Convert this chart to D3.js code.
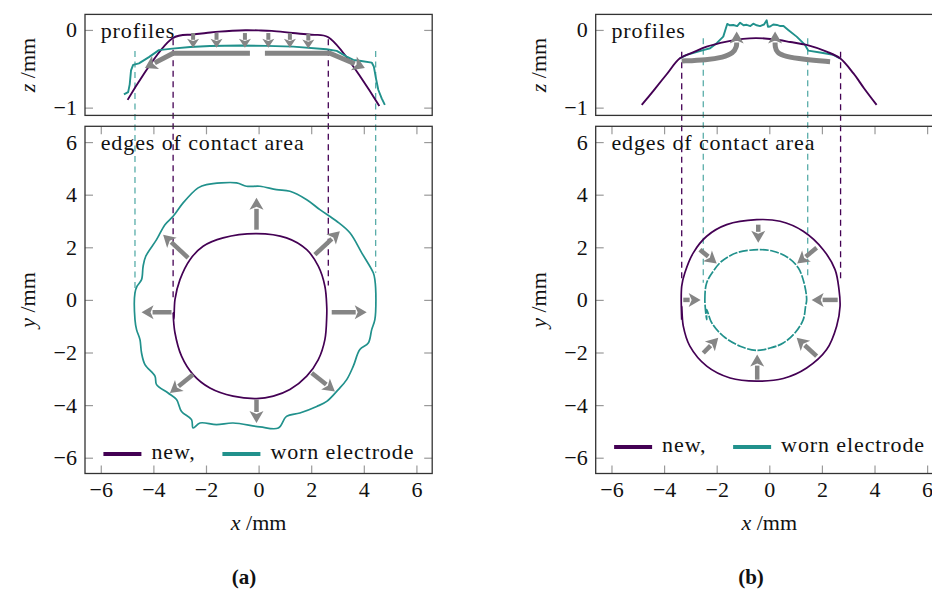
<!DOCTYPE html>
<html>
<head>
<meta charset="utf-8">
<script src="https://cdn.jsdelivr.net/npm/d3@7"></script>
<style>
  body { margin: 0; background: #fff; }
  text { font-family: "Liberation Serif", "Times New Roman", serif; fill: #111; }
</style>
</head>
<body>
<svg id="fig" width="932" height="590"></svg>
<script>
// ---- data (mm) ----
const xTicks = [-6, -4, -2, 0, 2, 4, 6];
const yTicks = [-6, -4, -2, 0, 2, 4, 6];
const zTicks = [0, -1];
const seriesNames = ["new,", "worn electrode"];
const panelLabels = ["(a)", "(b)"];

// profiles [x, z]
const newProfileA = [[-4.98, -0.9], [-3.27, -0.107], [-2.5, -0.058], [-2.0, -0.04], [-1.5, -0.022],
  [-1.0, -0.01], [-0.5, -0.004], [0, -0.006], [0.5, -0.012], [1.3, -0.04], [2.0, -0.062],
  [2.65, -0.094], [4.59, -0.98]];
const wornProfileA = [[-5.12, -0.83], [-4.96, -0.8], [-4.9, -0.7], [-4.85, -0.52], [-4.77, -0.45],
  [-4.55, -0.43], [-4.17, -0.35], [-3.79, -0.26], [-3.28, -0.24], [-2.6, -0.22], [-1.85, -0.206],
  [-0.71, -0.2], [0.3, -0.205], [1.32, -0.215], [2.58, -0.249], [2.97, -0.27], [3.35, -0.343],
  [3.6, -0.386], [3.9, -0.4], [4.3, -0.42], [4.38, -0.47], [4.46, -0.62], [4.55, -0.77],
  [4.68, -0.88], [4.8, -0.965]];
const newProfileB = [[-4.85, -0.965], [-4.4, -0.78], [-3.9, -0.57], [-3.4, -0.365], [-2.9, -0.29],
  [-2.38, -0.215], [-1.62, -0.15], [-1.0, -0.115], [-0.5, -0.105], [0.15, -0.12], [0.8, -0.155],
  [1.42, -0.193], [2.18, -0.28], [2.69, -0.365], [3.2, -0.56], [3.6, -0.75], [4.08, -0.965]];
const wornProfileB = [[-3.4, -0.365], [-3.14, -0.32], [-2.51, -0.26], [-2.25, -0.236], [-2.0, -0.17],
  [-1.75, -0.086], [-1.6, 0.077], [-1.5, 0.06], [-1.37, 0.064], [-1.22, 0.05], [-1.11, 0.094],
  [-0.98, 0.06], [-0.86, 0.066], [-0.72, 0.05], [-0.61, 0.08], [-0.48, 0.06], [-0.35, 0.05],
  [-0.2, 0.07], [-0.1, 0.125], [-0.05, 0.04], [0.03, 0.045], [0.15, 0.07], [0.29, 0.064],
  [0.42, 0.05], [0.54, 0.05], [0.72, 0.0], [1.04, -0.086], [1.36, -0.193], [1.48, -0.266],
  [1.93, -0.29], [2.43, -0.32], [2.69, -0.365]];

// contact area edges [x, y]
const newEdgeA = [[-3.22, -0.75], [-3.18, 0.01], [-2.99, 0.77], [-2.61, 1.53], [-2.11, 2.04],
  [-1.35, 2.36], [-0.08, 2.52], [1.06, 2.36], [1.83, 1.91], [2.27, 1.28], [2.52, 0.52],
  [2.59, -0.24], [2.59, -0.62], [2.52, -1.51], [2.27, -2.27], [1.83, -2.9], [1.19, -3.41],
  [0.56, -3.66], [-0.08, -3.75], [-0.97, -3.66], [-1.85, -3.35], [-2.49, -2.84], [-2.93, -2.14],
  [-3.18, -1.25], [-3.25, -0.49]];
const wornEdgeA = [[-4.7, -0.75], [-4.7, 0.27], [-4.62, 0.52], [-4.45, 0.77], [-4.39, 1.28],
  [-4.29, 1.66], [-3.88, 2.29], [-3.56, 2.86], [-3.25, 3.18], [-2.87, 3.69], [-2.3, 4.26],
  [-1.98, 4.38], [-0.84, 4.45], [-0.46, 4.32], [0.05, 4.32], [0.68, 4.19], [1.19, 4.13],
  [1.83, 3.81], [2.33, 3.43], [2.97, 2.99], [3.47, 2.55], [3.92, 1.79], [4.36, 1.03],
  [4.42, 0.77], [4.46, 0.01], [4.42, -0.75], [4.3, -1.13], [4.17, -1.64], [3.85, -1.89],
  [3.6, -2.52], [3.35, -3.03], [3.03, -3.41], [2.59, -3.86], [2.21, -4.05], [1.57, -4.3],
  [1.06, -4.43], [0.75, -4.87], [0.05, -4.83], [-0.97, -4.68], [-1.6, -4.74], [-2.23, -4.68],
  [-2.49, -4.87], [-2.55, -4.55], [-2.93, -4.24], [-3.12, -3.79], [-3.44, -3.54], [-3.88, -3.22],
  [-3.94, -2.9], [-4.32, -2.46], [-4.45, -2.02], [-4.51, -1.51], [-4.64, -1.13]];
const newEdgeB = [[-3.33, -0.75], [-3.33, 0.52], [-3.21, 1.03], [-2.89, 1.79], [-2.38, 2.42],
  [-1.62, 2.86], [-0.48, 3.05], [0.41, 2.99], [1.29, 2.61], [2.05, 1.91], [2.5, 1.15],
  [2.65, 0.39], [2.69, -0.24], [2.56, -1.0], [2.18, -1.89], [1.42, -2.59], [0.53, -2.99],
  [-0.48, -3.09], [-1.49, -2.97], [-2.38, -2.52], [-3.02, -1.76], [-3.27, -1.0], [-3.33, -0.24]];
const wornEdgeB = [[-2.38, -0.75], [-2.45, 0.01], [-2.38, 0.65], [-2.13, 1.09], [-1.81, 1.47],
  [-1.24, 1.79], [-0.42, 1.91], [0.15, 1.85], [0.72, 1.6], [1.1, 1.22], [1.32, 0.65],
  [1.42, 0.01], [1.38, -0.24], [1.29, -0.75], [0.98, -1.25], [0.53, -1.64], [0.03, -1.83],
  [-0.48, -1.92], [-1.11, -1.76], [-1.75, -1.38], [-2.19, -0.87], [-2.38, -0.37]];

// projection lines: [x, z at top, y at bottom]
const newGuidesA = [[-3.25, -0.12, 0.0], [2.65, -0.12, 0.55]];
const wornGuidesA = [[-4.7, -0.27, 0.27], [4.45, -0.27, 1.03]];
const newGuidesB = [[-3.33, -0.28, 0.65], [2.71, -0.28, 0.77]];
const wornGuidesB = [[-2.51, -0.107, 0.65], [1.46, -0.107, 0.77]];

// arrows: profile arrows in [x, z], edge arrows in [x, y]; last point is the tip
const profileArrowsA = [
  [[-2.49, -0.04], [-2.49, -0.23]], [[-1.6, -0.04], [-1.6, -0.23]], [[-0.52, -0.04], [-0.52, -0.23]],
  [[0.37, -0.04], [0.37, -0.23]], [[1.19, -0.04], [1.19, -0.23]], [[1.89, -0.05], [1.89, -0.24]],
  [[-0.33, -0.3], [-3.25, -0.3], [-4.32, -0.49]], [[0.24, -0.3], [2.71, -0.3], [4.04, -0.49]]];
const edgeArrowsA = [
  [[-0.08, 2.67], [-0.08, 3.88]], [[-2.68, 1.6], [-3.63, 2.48]], [[2.14, 1.72], [3.09, 2.61]],
  [[-3.31, -0.47], [-4.45, -0.47]], [[2.78, -0.47], [4.11, -0.47]], [[-2.49, -2.84], [-3.37, -3.54]],
  [[2.02, -2.78], [2.9, -3.48]], [[-0.08, -3.79], [-0.08, -4.68]]];
const profileArrowsB = [
  [[-3.33, -0.4], [-2.38, -0.386], [-1.75, -0.352], [-1.37, -0.3], [-1.24, -0.215], [-1.24, -0.02]],
  [[2.31, -0.408], [1.29, -0.377], [0.6, -0.343], [0.28, -0.292], [0.22, -0.215], [0.22, -0.02]]];
const edgeArrowsB = [
  [[-0.42, 2.86], [-0.42, 2.17]], [[-2.64, 1.91], [-2.0, 1.38]], [[1.8, 1.98], [1.06, 1.38]],
  [[-3.27, 0], [-2.61, 0]], [[2.6, 0], [1.61, 0]], [[-2.51, -2.02], [-1.94, -1.44]],
  [[1.8, -2.14], [1.04, -1.44]], [[-0.46, -3.03], [-0.46, -2.08]]];

// ---- layout ----
const C_NEW = "#440154", C_WORN = "#21918c", C_ARROW = "#858585";
const panels = [
  { left: 85, newP: newProfileA, wornP: wornProfileA, newE: newEdgeA, wornE: wornEdgeA,
    newG: newGuidesA, wornG: wornGuidesA, pArrows: profileArrowsA, eArrows: edgeArrowsA,
    curved: false, legendY: 454, labelX: 244, wornDash: null },
  { left: 595.7, newP: newProfileB, wornP: wornProfileB, newE: newEdgeB, wornE: wornEdgeB,
    newG: newGuidesB, wornG: wornGuidesB, pArrows: profileArrowsB, eArrows: edgeArrowsB,
    curved: true, legendY: 447, labelX: 751, wornDash: "9 1.5" }
];
const W = 347.2;                 // width of each axis (13.2 mm)
const topBox = [14.4, 115.4], botBox = [126.3, 473.5];

const svg = d3.select("#fig");
svg.append("rect").attr("width", 932).attr("height", 590).attr("fill", "#fff");

function arrow(g, pts, opt) {
  const [tx, ty] = pts[pts.length - 1];
  const [px, py] = pts[pts.length - 2];
  const len = Math.hypot(tx - px, ty - py);
  const ux = (tx - px) / len, uy = (ty - py) / len;
  const bx = tx - ux * opt.hl, by = ty - uy * opt.hl;
  const shaft = pts.slice(0, -1).concat([[bx + ux * 1, by + uy * 1]]);
  g.append("path")
    .attr("d", d3.line().curve(opt.curve || d3.curveLinear)(shaft))
    .attr("fill", "none").attr("stroke", C_ARROW)
    .attr("stroke-width", opt.sw).attr("stroke-linejoin", "round");
  const hw = opt.hw / 2;
  g.append("path")
    .attr("d", `M${tx},${ty}L${bx - uy * hw},${by + ux * hw}L${bx + ux * opt.hl * 0.25},${by + uy * opt.hl * 0.25}L${bx + uy * hw},${by - ux * hw}Z`)
    .attr("fill", C_ARROW);
}

panels.forEach((p, i) => {
  const x = d3.scaleLinear().domain([-6.6, 6.6]).range([p.left, p.left + W]);
  const y = d3.scaleLinear().domain([-6.6, 6.6]).range([botBox[1], botBox[0]]);
  const z = d3.scaleLinear().domain([-1.1, 0.2]).range([topBox[1], topBox[0]]);
  const g = svg.append("g");

  const clipT = "clipT" + i, clipB = "clipB" + i;
  svg.append("clipPath").attr("id", clipT).append("rect")
    .attr("x", p.left).attr("y", topBox[0]).attr("width", W).attr("height", topBox[1] - topBox[0]);
  svg.append("clipPath").attr("id", clipB).append("rect")
    .attr("x", p.left).attr("y", botBox[0]).attr("width", W).attr("height", botBox[1] - botBox[0]);

  // axes (ticks inside)
  const fmt = d3.format("d");
  const styleAxis = (sel) => {
    sel.select(".domain").remove();
    sel.selectAll(".tick line").attr("stroke", "#9a9a9a").attr("stroke-width", 1.2);
    sel.selectAll(".tick text").attr("font-family", "Liberation Serif, serif")
      .attr("font-size", 22).attr("fill", "#111");
  };
  g.append("g").attr("transform", `translate(0,${botBox[1]})`)
    .call(d3.axisBottom(x).tickValues(xTicks).tickFormat(fmt).tickSize(-8).tickPadding(7.5)).call(styleAxis);
  g.append("g").attr("transform", `translate(0,${botBox[0]})`)
    .call(d3.axisTop(x).tickValues(xTicks).tickSize(-8).tickFormat("")).call(styleAxis);
  g.append("g").attr("transform", `translate(${p.left},0)`)
    .call(d3.axisLeft(y).tickValues(yTicks).tickFormat(fmt).tickSize(-8).tickPadding(8)).call(styleAxis);
  g.append("g").attr("transform", `translate(${p.left + W},0)`)
    .call(d3.axisRight(y).tickValues(yTicks).tickSize(-8).tickFormat("")).call(styleAxis);
  g.append("g").attr("transform", `translate(${p.left},0)`)
    .call(d3.axisLeft(z).tickValues(zTicks).tickFormat(fmt).tickSize(-8).tickPadding(8)).call(styleAxis);
  g.append("g").attr("transform", `translate(${p.left + W},0)`)
    .call(d3.axisRight(z).tickValues(zTicks).tickSize(-8).tickFormat("")).call(styleAxis);

  // projection guides
  const guide = (arr, color, op) => arr.forEach(([gx, gz, gy]) => {
    g.append("line").attr("x1", x(gx)).attr("x2", x(gx)).attr("y1", z(gz)).attr("y2", y(gy))
      .attr("stroke", color).attr("stroke-opacity", op).attr("stroke-width", 1.3)
      .attr("stroke-dasharray", "6 4.5");
  });
  guide(p.wornG, C_WORN, 0.75);
  guide(p.newG, C_NEW, 1);

  // profiles
  const lpSmooth = d3.line().x(d => x(d[0])).y(d => z(d[1])).curve(d3.curveCatmullRom.alpha(0.5));
  const lpRough = d3.line().x(d => x(d[0])).y(d => z(d[1]));
  const gt = g.append("g").attr("clip-path", `url(#${clipT})`);
  const profs = !p.curved
    ? [[lpSmooth(p.newP), C_NEW], [lpRough(p.wornP), C_WORN]]
    : [[lpRough(p.wornP), C_WORN], [lpSmooth(p.newP), C_NEW]];
  profs.forEach(([d, c]) => gt.append("path").attr("d", d).attr("fill", "none")
    .attr("stroke", c).attr("stroke-width", 1.9).attr("stroke-linejoin", "round"));

  // contact edges
  const le = d3.line().x(d => x(d[0])).y(d => y(d[1])).curve(d3.curveCatmullRomClosed.alpha(0.5));
  const gb = g.append("g").attr("clip-path", `url(#${clipB})`);
  gb.append("path").attr("d", le(p.newE)).attr("fill", "none")
    .attr("stroke", C_NEW).attr("stroke-width", 1.7);
  gb.append("path").attr("d", le(p.wornE)).attr("fill", "none")
    .attr("stroke", C_WORN).attr("stroke-width", 1.7)
    .attr("stroke-dasharray", p.wornDash);

  // arrows
  p.pArrows.forEach(a => {
    const pts = a.map(d => [x(d[0]), z(d[1])]);
    if (p.curved) arrow(g, pts, { sw: 5, hw: 14, hl: 12, curve: d3.curveBasis });
    else if (a.length > 2) arrow(g, pts, { sw: 5, hw: 15, hl: 12 });
    else arrow(g, pts, { sw: 4, hw: 12, hl: 9 });
  });
  p.eArrows.forEach(a => arrow(g, a.map(d => [x(d[0]), y(d[1])]), { sw: 4.5, hw: 14, hl: 12 }));

  // boxes
  [topBox, botBox].forEach(b => g.append("rect").attr("x", p.left).attr("y", b[0])
    .attr("width", W).attr("height", b[1] - b[0]).attr("fill", "none")
    .attr("stroke", "#333").attr("stroke-width", 1.3));

  // annotations
  const txt = (tx, ty, s) => g.append("text").attr("x", tx).attr("y", ty)
    .attr("font-size", 22).attr("letter-spacing", 0.9).text(s);
  txt(p.left + 15.7, 37.5, "profiles");
  txt(p.left + 15.7, 149.5, "edges of contact area");

  // legend
  const ly = p.legendY;
  const lx = x(-5.9);
  g.append("line").attr("x1", lx).attr("x2", lx + 38).attr("y1", ly).attr("y2", ly)
    .attr("stroke", C_NEW).attr("stroke-width", 4);
  txt(lx + 48, ly + 4.5, seriesNames[0]);
  g.append("line").attr("x1", lx + 119).attr("x2", lx + 157).attr("y1", ly).attr("y2", ly)
    .attr("stroke", C_WORN).attr("stroke-width", 4);
  txt(lx + 167, ly + 4.5, seriesNames[1]);

  // axis labels
  const xl = g.append("text").attr("x", x(0)).attr("y", 530).attr("text-anchor", "middle")
    .attr("font-size", 22);
  xl.append("tspan").attr("font-style", "italic").text("x");
  xl.append("tspan").text(" /mm");
  [["y", 300], ["z", 65]].forEach(([v, cy]) => {
    const t = g.append("text").attr("transform", `translate(${p.left - 50},${cy}) rotate(-90)`)
      .attr("text-anchor", "middle").attr("font-size", 22);
    t.append("tspan").attr("font-style", "italic").text(v);
    t.append("tspan").text(" /mm");
  });

  g.append("text").attr("x", p.labelX).attr("y", 584).attr("text-anchor", "middle")
    .attr("font-size", 21).attr("font-weight", "bold").text(panelLabels[i]);
});
</script>
</body>
</html>
